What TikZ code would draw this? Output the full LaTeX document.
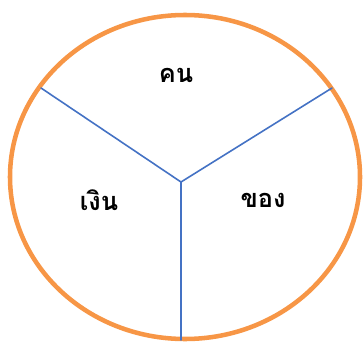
\documentclass[tikz,border=0pt]{standalone}
\usepackage{fontspec}
\newfontfamily\thaifont[Script=Thai]{Loma}
\usetikzlibrary{positioning}
\definecolor{rimorange}{HTML}{F79646}
\definecolor{spokeblue}{HTML}{4472C4}

\begin{document}
\begin{tikzpicture}[
  x=0.75pt,y=-0.75pt,
  line cap=round,line join=round,
  rim/.style={draw=rimorange,line width=3.4pt},
  spoke/.style={draw=spokeblue,line width=1.2pt},
  sector/.style={font=\thaifont\bfseries\fontsize{19}{22}\selectfont,inner sep=0pt}
]
  \useasboundingbox (0,0) rectangle (363,342);

  % Outer ring.
  \def\rimX{175}
  \def\rimY{162}
  \coordinate (O) at (185,177);
  \draw[rim] (O) ellipse[x radius=\rimX,y radius=\rimY];

  % Hub and spoke ends.
  \coordinate (H) at (181,182);
  \coordinate (SL) at (41,88);
  \coordinate (SR) at (332,88);
  \coordinate (SB) at (181,340);

  \foreach \spokeend in {SL,SR,SB}
    \draw[spoke] (H) -- (\spokeend);

  % Sector labels.
  \node[sector] (people) at (176,75) {คน};
  \node[sector] (money) at (99,200) {เงิน};
  \node[sector] (goods) at (263,200) {ของ};
\end{tikzpicture}
\end{document}
